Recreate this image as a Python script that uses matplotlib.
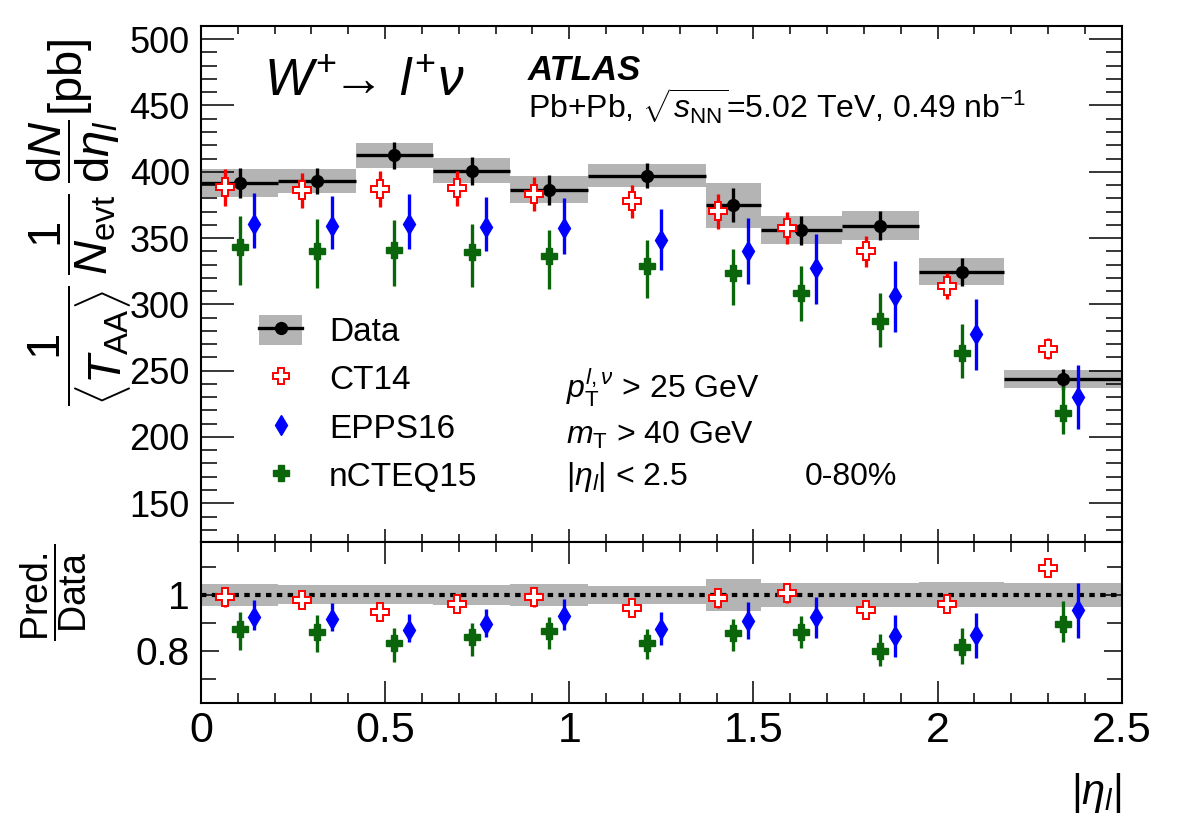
import numpy as np
import matplotlib
matplotlib.use("Agg")
import matplotlib.pyplot as plt
from matplotlib.patches import Patch
from matplotlib.lines import Line2D
from matplotlib.ticker import MultipleLocator, FuncFormatter

plt.rcParams["font.family"] = ["Liberation Sans", "DejaVu Sans"]
plt.rcParams["mathtext.fontset"] = "custom"
plt.rcParams["mathtext.rm"] = "Liberation Sans"
plt.rcParams["mathtext.it"] = "Liberation Sans:italic"
plt.rcParams["mathtext.bf"] = "Liberation Sans:bold"

# |eta_l| binning and measured yields (pb)
bin_edges = [0, 0.21, 0.42, 0.63, 0.84, 1.05, 1.37, 1.52, 1.74, 1.95, 2.18, 2.5]
data = [391.5, 393.0, 412.3, 400.7, 386.5, 397.0, 374.9, 356.0, 359.4, 324.6, 243.6]
data_stat = [11.5, 10.0, 10.5, 10.6, 11.4, 9.3, 13.0, 11.0, 11.0, 10.6, 8.0]
data_syst = [10.5, 8.8, 9.4, 9.5, 10.4, 8.6, 17.0, 10.8, 11.0, 10.0, 6.9]

# predictions
ct14 = [388.2, 386.0, 387.0, 387.4, 383.2, 377.7, 370.2, 357.7, 340.0, 313.8, 266.7]
ct14_err = [14.0, 13.0, 13.7, 13.0, 13.0, 12.7, 13.0, 12.0, 11.7, 10.0, 8.0]
epps16 = [360.9, 359.4, 360.9, 358.4, 357.7, 348.9, 340.0, 327.6, 306.3, 277.4, 230.3]
epps16_up = [23.0, 22.6, 22.5, 22.3, 22.5, 23.0, 25.0, 25.3, 26.6, 26.3, 24.0]
epps16_dn = [18.5, 18.0, 18.8, 18.0, 19.4, 22.8, 24.6, 27.0, 27.0, 26.8, 24.0]
ncteq15 = [343.4, 340.6, 341.3, 339.6, 336.3, 328.8, 323.6, 308.6, 287.4, 263.6, 218.0]
ncteq15_up = [23.6, 23.8, 22.5, 21.0, 20.0, 19.5, 18.3, 20.3, 21.0, 21.8, 20.5]
ncteq15_dn = [29.0, 28.4, 27.8, 26.8, 25.0, 23.8, 23.8, 21.0, 19.5, 19.1, 15.6]

GRAY = "#b4b4b4"
GREEN = "#0b650b"
OFFSET = 0.04  # horizontal shift of CT14 / EPPS16 inside a bin

edges = np.array(bin_edges)
centers = 0.5 * (edges[1:] + edges[:-1])
half = 0.5 * (edges[1:] - edges[:-1])
data = np.array(data)
stat = np.array(data_stat)
syst = np.array(data_syst)

fig = plt.figure(figsize=(11.82, 8.36), dpi=100)
ax = fig.add_axes([0.170, 0.352, 0.779, 0.617])
rax = fig.add_axes([0.170, 0.159, 0.779, 0.193], sharex=ax)

ct14_style = dict(fmt="P", color="red", mfc="white", mec="red", mew=1.4, ms=13,
                  elinewidth=2.4, capsize=0, zorder=4)
epps_style = dict(fmt="d", color="blue", ms=10, elinewidth=2.4, capsize=0, zorder=4)
ncteq_style = dict(fmt="P", color=GREEN, ms=11, elinewidth=2.4, capsize=0, zorder=4)

# top panel
ax.bar(edges[:-1], 2 * syst, bottom=data - syst, width=np.diff(edges),
       align="edge", color=GRAY, lw=0, zorder=1)
ax.errorbar(centers, data, xerr=half, yerr=stat, fmt="o", color="k",
            ms=8.5, elinewidth=2.4, capsize=0, zorder=3)
ax.errorbar(centers - OFFSET, ct14, yerr=ct14_err, **ct14_style)
ax.errorbar(centers + OFFSET, epps16, yerr=[epps16_dn, epps16_up], **epps_style)
ax.errorbar(centers, ncteq15, yerr=[ncteq15_dn, ncteq15_up], **ncteq_style)

ax.set_xlim(0, 2.5)
ax.set_ylim(121, 510)
ax.yaxis.set_major_locator(MultipleLocator(50))
ax.yaxis.set_minor_locator(MultipleLocator(10))
ax.xaxis.set_major_locator(MultipleLocator(0.5))
ax.xaxis.set_minor_locator(MultipleLocator(0.1))
ax.tick_params(axis="x", which="both", labelbottom=False)
ax.tick_params(axis="y", labelsize=26, pad=8)

# ratio panel
tot_rel = np.sqrt(stat ** 2 + syst ** 2) / data
rax.bar(edges[:-1], 2 * tot_rel, bottom=1 - tot_rel, width=np.diff(edges),
        align="edge", color=GRAY, lw=0, zorder=1)
rax.axhline(1, color="k", lw=3.0, ls=(0, (1.3, 1.3)), zorder=2)
rax.errorbar(centers - OFFSET, np.array(ct14) / data,
             yerr=np.array(ct14_err) / data, **ct14_style)
rax.errorbar(centers + OFFSET, np.array(epps16) / data,
             yerr=[np.array(epps16_dn) / data, np.array(epps16_up) / data],
             **epps_style)
rax.errorbar(centers, np.array(ncteq15) / data,
             yerr=[np.array(ncteq15_dn) / data, np.array(ncteq15_up) / data],
             **ncteq_style)
rax.set_ylim(0.612, 1.19)
rax.yaxis.set_major_locator(MultipleLocator(0.2))
rax.yaxis.set_minor_locator(MultipleLocator(0.1))
fmt = FuncFormatter(lambda v, p: "%g" % round(v, 3))
rax.yaxis.set_major_formatter(fmt)
rax.xaxis.set_major_formatter(fmt)
rax.tick_params(axis="x", labelsize=31, pad=6)
rax.tick_params(axis="y", labelsize=28, pad=8)

for a in (ax, rax):
    a.tick_params(which="both", direction="in", top=True, right=True, width=1.1)
    for s in a.spines.values():
        s.set_linewidth(1.5)
ax.tick_params(axis="y", which="major", length=23.5)
ax.tick_params(axis="y", which="minor", length=11.5)
ax.tick_params(axis="x", which="major", length=9.5)
ax.tick_params(axis="x", which="minor", length=5.8)
rax.tick_params(axis="x", which="major", length=16)
rax.tick_params(axis="x", which="minor", length=7.5)
rax.tick_params(axis="y", which="major", length=13)
rax.tick_params(axis="y", which="minor", length=11)

# labels
fig.text(0.067, 1 - 38 / 836,
         r"$\dfrac{1}{\langle T_{\mathrm{AA}}\rangle}\,\dfrac{1}{N_{\mathrm{evt}}}\,"
         r"\dfrac{\mathrm{d}N}{\mathrm{d}\eta_{l}}$[pb]",
         rotation=90, ha="center", va="top", fontsize=34)
fig.text(0.045, 1 - 592 / 836, r"$\dfrac{\mathrm{Pred.}}{\mathrm{Data}}$",
         rotation=90, ha="center", va="center", fontsize=27)
rax.set_xlabel(r"$|\eta_{l}|$", fontsize=30, loc="right", labelpad=14)

# annotations
ax.text(0.069, 0.864, r"$W^{+}\!\!\rightarrow\,l^{+}\nu$", transform=ax.transAxes,
        fontsize=37, va="baseline")
ax.text(0.355, 0.895, "ATLAS", transform=ax.transAxes, fontsize=25,
        fontweight="bold", fontstyle="italic", va="baseline")
ax.text(0.355, 0.82, r"Pb+Pb, $\sqrt{s_{\mathrm{NN}}}$=5.02 TeV, 0.49 nb$^{-1}$",
        transform=ax.transAxes, fontsize=23, va="baseline")
ax.text(0.396, 0.277, r"$p_{\mathrm{T}}^{l,\nu}$ > 25 GeV", transform=ax.transAxes,
        fontsize=23, va="baseline")
ax.text(0.396, 0.19, r"$m_{\mathrm{T}}$ > 40 GeV", transform=ax.transAxes,
        fontsize=23, va="baseline")
ax.text(0.396, 0.11, r"$|\eta_{l}|$ < 2.5", transform=ax.transAxes,
        fontsize=23, va="baseline")
ax.text(0.656, 0.11, "0-80%", transform=ax.transAxes, fontsize=23, va="baseline")

handles = [
    (Patch(facecolor=GRAY, lw=0), Line2D([], [], color="k", lw=2.4, marker="o", ms=8.5)),
    Line2D([], [], ls="none", marker="P", mfc="white", mec="red", mew=1.4, ms=12),
    Line2D([], [], ls="none", marker="d", color="blue", ms=10),
    Line2D([], [], ls="none", marker="P", color=GREEN, ms=11),
]
ax.legend(handles, ["Data", "CT14", "EPPS16", "nCTEQ15"], loc="upper left",
          bbox_to_anchor=(0.063, 0.44), frameon=False, fontsize=24,
          borderpad=0, borderaxespad=0, handlelength=1.3, handleheight=1.0,
          handletextpad=0.8, labelspacing=0.45)

fig.savefig("out.png", dpi=100)
